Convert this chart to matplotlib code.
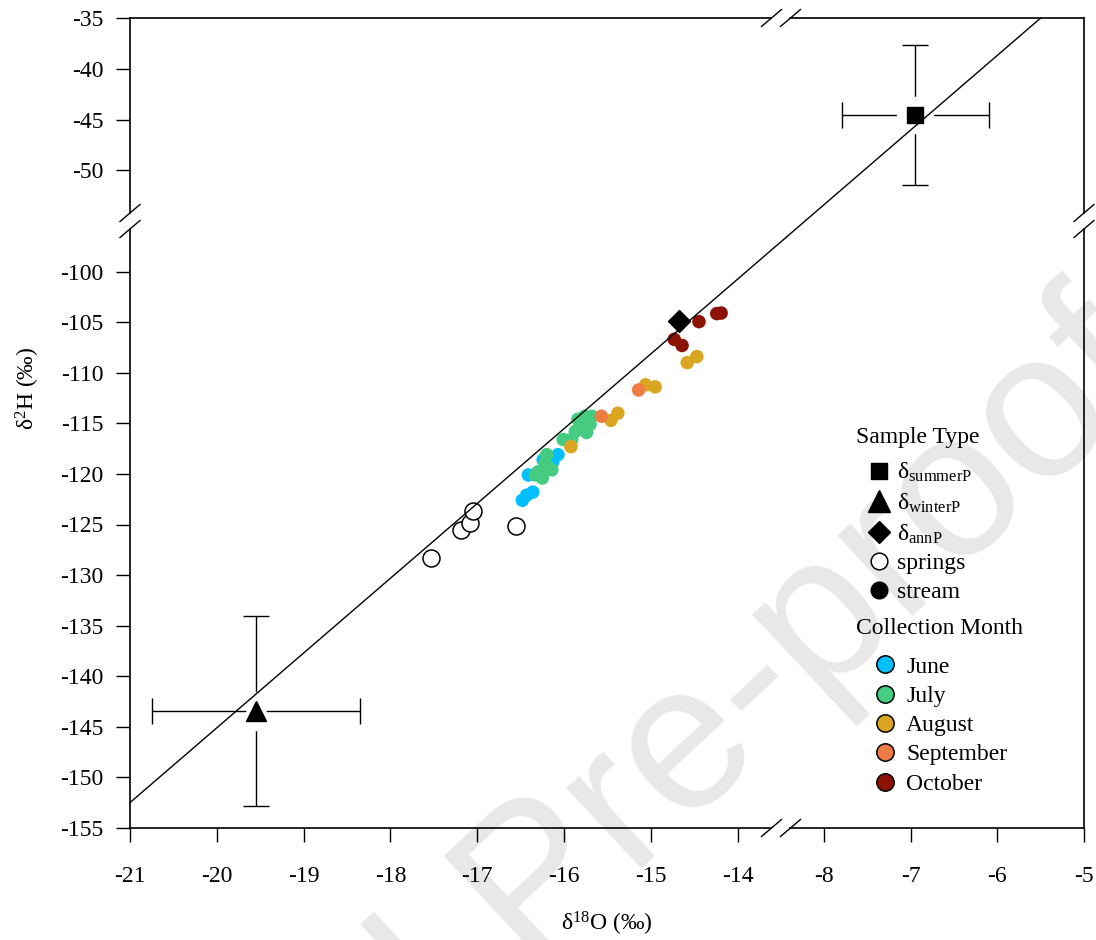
import numpy as np
import matplotlib
matplotlib.use('Agg')
import matplotlib.pyplot as plt
from matplotlib.lines import Line2D

plt.rcParams['font.family'] = ['Liberation Serif', 'DejaVu Serif']
plt.rcParams['mathtext.fontset'] = 'custom'
plt.rcParams['mathtext.rm'] = 'Liberation Serif'
plt.rcParams['mathtext.it'] = 'Liberation Serif:italic'
plt.rcParams['mathtext.bf'] = 'Liberation Serif:bold'
plt.rcParams['axes.unicode_minus'] = False

# ---------------- data ----------------
june_x = [-16.07, -16.13, -16.24, -16.41, -16.36, -16.48, -16.43]
june_y = [-118.1, -118.8, -118.6, -120.1, -121.8, -122.6, -122.1]

july_x = [-15.76, -15.68, -15.82, -15.74, -15.87, -16.01, -15.91, -16.20,
          -16.22, -16.18, -16.30, -16.33, -16.25, -16.14, -15.84, -15.70]
july_y = [-114.3, -114.3, -115.4, -115.9, -115.8, -116.6, -116.6, -118.1,
          -118.9, -119.3, -119.8, -120.1, -120.4, -119.6, -114.6, -115.1]

august_x = [-14.58, -14.47, -15.06, -14.95, -15.38, -15.46, -15.92]
august_y = [-109.0, -108.4, -111.2, -111.4, -114.0, -114.7, -117.3]

september_x = [-15.14, -15.57]
september_y = [-111.7, -114.3]

october_x = [-14.445, -14.24, -14.19, -14.73, -14.64]
october_y = [-104.95, -104.15, -104.1, -106.7, -107.3]

springs_x = [-17.53, -17.19, -17.08, -17.05, -16.55]
springs_y = [-128.3, -125.5, -124.9, -123.7, -125.1]

summer_x, summer_y, summer_xerr, summer_yerr = -6.95, -44.6, 0.85, 6.9
winter_x, winter_y, winter_xerr, winter_yerr = -19.55, -143.4, 1.2, 9.4
ann_x, ann_y = -14.68, -104.9

lmwl_slope, lmwl_intercept = 7.58, 6.69

month_names = ['June', 'July', 'August', 'September', 'October']
month_colors = ['#00BFFF', '#45CC80', '#DAA520', '#F07C45', '#8B1205']
sample_labels = ['δ$_{\\mathrm{summerP}}$', 'δ$_{\\mathrm{winterP}}$',
                 'δ$_{\\mathrm{annP}}$', 'springs', 'stream']

left_xticks = [-21, -20, -19, -18, -17, -16, -15, -14]
right_xticks = [-8, -7, -6, -5]
bottom_yticks = [-155, -150, -145, -140, -135, -130, -125, -120, -115, -110, -105, -100]
top_yticks = [-50, -45, -40, -35]

# ---------------- layout ----------------
W, H = 1096, 940
fig = plt.figure(figsize=(W / 100, H / 100), dpi=100)


def fx(px):
    return px / W


def fy(py):
    return 1 - py / H


XL, XM, XR = 130, 781, 1084
YT, YM, YB = 18, 221, 828

ax_tl = fig.add_axes([fx(XL), fy(YM), (XM - XL) / W, (YM - YT) / H])
ax_tr = fig.add_axes([fx(XM), fy(YM), (XR - XM) / W, (YM - YT) / H])
ax_bl = fig.add_axes([fx(XL), fy(YB), (XM - XL) / W, (YB - YM) / H])
ax_br = fig.add_axes([fx(XM), fy(YB), (XR - XM) / W, (YB - YM) / H])
axes = [ax_tl, ax_tr, ax_bl, ax_br]

xlim_l, xlim_r = (-21, -13.5), (-8.5, -5)
ylim_t, ylim_b = (-55, -35), (-155, -95)

month_data = [(june_x, june_y), (july_x, july_y), (august_x, august_y),
              (september_x, september_y), (october_x, october_y)]

for ax in axes:
    ax.set_facecolor('none')
    for (mx, my), col in zip(month_data, month_colors):
        ax.scatter(mx, my, s=95, color=col, edgecolors='none', zorder=3)
    ax.scatter(springs_x, springs_y, s=150, facecolors='white',
               edgecolors='black', linewidths=1.1, zorder=4)
    ax.errorbar([summer_x], [summer_y], xerr=[summer_xerr], yerr=[summer_yerr],
                fmt='none', ecolor='black', elinewidth=1.0, capsize=9.5,
                capthick=1.0, zorder=5)
    ax.errorbar([winter_x], [winter_y], xerr=[winter_xerr], yerr=[winter_yerr],
                fmt='none', ecolor='black', elinewidth=1.0, capsize=9.5,
                capthick=1.0, zorder=5)
    ax.plot([summer_x], [summer_y], marker='s', markersize=26, color='white',
            linestyle='none', zorder=6)
    ax.plot([winter_x], [winter_y], marker='^', markersize=28, color='white',
            linestyle='none', zorder=6)
    ax.plot([summer_x], [summer_y], marker='s', markersize=12, color='black',
            linestyle='none', zorder=7)
    ax.plot([winter_x], [winter_y], marker='^', markersize=15, color='black',
            linestyle='none', zorder=7)
    ax.plot([ann_x], [ann_y], marker='D', markersize=11.5, color='black',
            linestyle='none', zorder=7)

for ax, xl, yl in [(ax_tl, xlim_l, ylim_t), (ax_tr, xlim_r, ylim_t),
                   (ax_bl, xlim_l, ylim_b), (ax_br, xlim_r, ylim_b)]:
    ax.set_xlim(*xl)
    ax.set_ylim(*yl)
    for s in ax.spines.values():
        s.set_linewidth(1.2)
        s.set_visible(False)
    ax.tick_params(direction='out', length=10, width=1.0, labelsize=17)
    ax.tick_params(axis='x', pad=17)
    ax.tick_params(axis='y', pad=9)

# regression line drawn across the broken axes as one straight segment
x_start = xlim_l[0]
y_start = lmwl_slope * x_start + lmwl_intercept
y_end = ylim_t[1]
x_end = (y_end - lmwl_intercept) / lmwl_slope
p0 = ax_bl.transData.transform((x_start, y_start))
p1 = ax_tr.transData.transform((x_end, y_end))
inv = fig.transFigure.inverted()
f0, f1 = inv.transform(p0), inv.transform(p1)
fig.add_artist(Line2D([f0[0], f1[0]], [f0[1], f1[1]], transform=fig.transFigure,
                      color='black', lw=1.0, zorder=2))

# spines
gap_x = 9.5 / 86.8
gap_y = 8 / 10.13
ax_tl.spines['left'].set_visible(True)
ax_tl.spines['left'].set_bounds(ylim_t[0] + gap_y, ylim_t[1])
ax_tl.spines['top'].set_visible(True)
ax_tl.spines['top'].set_bounds(xlim_l[0], xlim_l[1] - gap_x)
ax_tr.spines['top'].set_visible(True)
ax_tr.spines['top'].set_bounds(xlim_r[0] + gap_x, xlim_r[1])
ax_tr.spines['right'].set_visible(True)
ax_tr.spines['right'].set_bounds(ylim_t[0] + gap_y, ylim_t[1])
ax_bl.spines['left'].set_visible(True)
ax_bl.spines['left'].set_bounds(ylim_b[0], ylim_b[1] - gap_y)
ax_bl.spines['bottom'].set_visible(True)
ax_bl.spines['bottom'].set_bounds(xlim_l[0], xlim_l[1] - gap_x)
ax_br.spines['bottom'].set_visible(True)
ax_br.spines['bottom'].set_bounds(xlim_r[0] + gap_x, xlim_r[1])
ax_br.spines['right'].set_visible(True)
ax_br.spines['right'].set_bounds(ylim_b[0], ylim_b[1] - gap_y)

# ticks
ax_tl.set_xticks([])
ax_tr.set_xticks([])
ax_tr.set_yticks([])
ax_br.set_yticks([])
ax_tl.set_yticks(top_yticks)
ax_tl.set_yticklabels([str(v) for v in top_yticks])
ax_bl.set_yticks(bottom_yticks)
ax_bl.set_yticklabels([str(v) for v in bottom_yticks])
ax_bl.set_xticks(left_xticks)
ax_bl.set_xticklabels([str(v) for v in left_xticks])
ax_br.set_xticks(right_xticks)
ax_br.set_xticklabels([str(v) for v in right_xticks])


# break marks
def slash(cx, cy):
    fig.add_artist(Line2D([fx(cx - 10), fx(cx + 10)], [fy(cy + 8.5), fy(cy - 8.5)],
                          transform=fig.transFigure, color='black', lw=1.0))


for cy in (YT, YB):
    slash(XM - 9.5, cy)
    slash(XM + 9.5, cy)
for cx in (XL, XR):
    slash(cx, YM - 8)
    slash(cx, YM + 8)

# axis labels
fig.text(fx(607), fy(924), 'δ$^{18}$O (‰)', ha='center', va='center', fontsize=17)
fig.text(fx(28), fy(388), 'δ$^{2}$H (‰)', ha='center', va='center',
         rotation=90, fontsize=17)

# legends
h1 = [Line2D([], [], marker='s', color='black', linestyle='none', markersize=11.5),
      Line2D([], [], marker='^', color='black', linestyle='none', markersize=15.5),
      Line2D([], [], marker='D', color='black', linestyle='none', markersize=11.5),
      Line2D([], [], marker='o', markerfacecolor='white', markeredgecolor='black',
             linestyle='none', markersize=12, markeredgewidth=1.1),
      Line2D([], [], marker='o', color='black', linestyle='none', markersize=12)]
leg1 = ax_br.legend(h1, sample_labels, loc='upper left',
                    bbox_to_anchor=(fx(870), fy(461)), bbox_transform=fig.transFigure,
                    frameon=False, fontsize=17, borderpad=0, borderaxespad=0,
                    handlelength=0.8, handletextpad=0.35, labelspacing=0.31)
ax_br.add_artist(leg1)

h2 = [Line2D([], [], marker='o', markerfacecolor=c, markeredgecolor='black',
             linestyle='none', markersize=12.5, markeredgewidth=1.1)
      for c in month_colors]
leg2 = ax_br.legend(h2, month_names, loc='upper left',
                    bbox_to_anchor=(fx(875.6), fy(656)), bbox_transform=fig.transFigure,
                    frameon=False, fontsize=17, borderpad=0, borderaxespad=0,
                    handlelength=0.8, handletextpad=0.49, labelspacing=0.33)

fig.text(fx(856), fy(438), 'Sample Type', ha='left', va='center', fontsize=17)
fig.text(fx(856), fy(629), 'Collection Month', ha='left', va='center', fontsize=17)

# watermark
fig.text(fx(577), fy(929), 'Journal Pre-proof', ha='center', va='baseline',
         rotation=43, rotation_mode='anchor', fontsize=150, color='#E8E8E8',
         family='Liberation Sans', zorder=-1)

fig.savefig('out.png', dpi=100)
